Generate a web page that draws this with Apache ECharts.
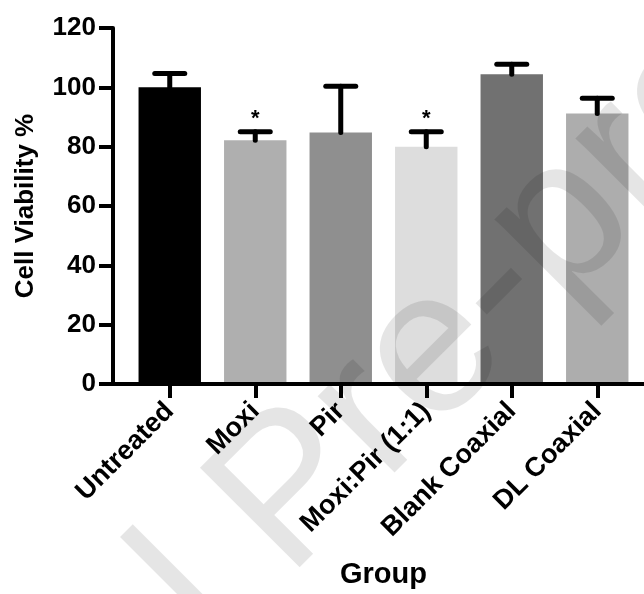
<!DOCTYPE html>
<html><head><meta charset="utf-8">
<script src="https://cdn.jsdelivr.net/npm/echarts@6/dist/echarts.min.js"></script>
<style>html,body{margin:0;padding:0;background:#fff}#c{width:644px;height:594px}</style>
</head><body><div id="c"></div>
<script>
var categories = ['Untreated', 'Moxi', 'Pir', 'Moxi:Pir (1:1)', 'Blank Coaxial', 'DL Coaxial'];
var meanValues = [100, 82.2, 84.8, 80.0, 104.4, 91.2];
var errorValues = [4.7, 2.8, 15.6, 5.0, 3.4, 5.1];
var significance = ['', '*', '', '*', '', ''];
var barColors = ['#000000', '#afafaf', '#8f8f8f', '#dddddd', '#717171', '#adadad'];
var yMin = 0, yMax = 120, yStep = 20;
var yTitle = 'Cell Viability %';
var xTitle = 'Group';
var watermark = 'Journal Pre-proof';

var FONT = 'Arial, "Liberation Sans", Helvetica, sans-serif';
var chart = echarts.init(document.getElementById('c'), null, {renderer: 'canvas'});

var errData = meanValues.map(function (v, i) { return [i, v, v + errorValues[i], significance[i]]; });

chart.setOption({
  animation: false,
  backgroundColor: '#fff',
  grid: {left: 127, right: 4, top: 28, bottom: 206, containLabel: false},
  xAxis: {
    type: 'category', data: categories,
    axisLine: {show: false},
    axisTick: {show: true, alignWithLabel: true, length: 14, lineStyle: {color: '#000', width: 4}},
    axisLabel: {rotate: 45, margin: 23, color: '#000', fontFamily: FONT, fontWeight: 'bold', fontSize: 27, interval: 0},
    name: xTitle, nameLocation: 'middle', nameGap: 176,
    nameTextStyle: {color: '#000', fontFamily: FONT, fontWeight: 'bold', fontSize: 29, verticalAlign: 'top'}
  },
  yAxis: {
    type: 'value', min: yMin, max: yMax, interval: yStep, offset: 14,
    axisLine: {show: true, lineStyle: {color: '#000', width: 4}},
    axisTick: {show: true, length: 14, lineStyle: {color: '#000', width: 4}},
    axisLabel: {margin: 17, color: '#000', fontFamily: FONT, fontWeight: 'bold', fontSize: 26},
    splitLine: {show: false},
    name: yTitle, nameLocation: 'middle', nameGap: 74, nameRotate: 90,
    nameTextStyle: {color: '#000', fontFamily: FONT, fontWeight: 'bold', fontSize: 26}
  },
  series: [
    {
      type: 'bar', barWidth: '73%',
      data: meanValues.map(function (v, i) { return {value: v, itemStyle: {color: barColors[i]}}; }),
      z: 2
    },
    {
      type: 'custom', z: 3,
      data: errData,
      renderItem: function (params, api) {
        var x = api.value(0);
        var p0 = api.coord([x, api.value(1)]);
        var p1 = api.coord([x, api.value(2)]);
        var half = 15;
        var children = [
          {type: 'line', shape: {x1: p0[0], y1: p0[1], x2: p1[0], y2: p1[1]}, style: {stroke: '#000', lineWidth: 5, lineCap: 'round'}},
          {type: 'line', shape: {x1: p1[0] - half, y1: p1[1], x2: p1[0] + half, y2: p1[1]}, style: {stroke: '#000', lineWidth: 5, lineCap: 'round'}}
        ];
        var s = api.value(3);
        if (s) {
          children.push({type: 'text', x: p1[0], y: p1[1] - 13,
            style: {text: s, fill: '#000', font: 'bold 22px ' + FONT, textAlign: 'center', textVerticalAlign: 'middle'}});
        }
        return {type: 'group', children: children};
      }
    }
  ]
});

var y0 = chart.convertToPixel({yAxisIndex: 0}, 0);
chart.setOption({
  graphic: [
    {type: 'line', z: 10, shape: {x1: 111, y1: y0, x2: 644, y2: y0}, style: {stroke: '#000', lineWidth: 4}},
    {type: 'text', z: 100, x: 292, y: 495, rotation: Math.PI / 4,
      style: {text: watermark, fill: 'rgba(0,0,0,0.1)', font: '205px ' + FONT, textAlign: 'center', textVerticalAlign: 'middle'}}
  ]
});
</script>
</body></html>
